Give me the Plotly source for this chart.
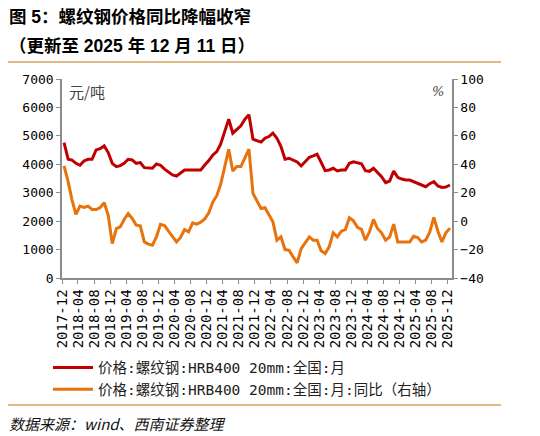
import pandas as pd
import plotly.graph_objects as go

# monthly data, 2017-12 .. 2025-12
months = pd.date_range("2017-12-01", "2025-12-01", freq="MS").strftime("%Y-%m").tolist()

# 价格:螺纹钢:HRB400 20mm:全国:月 (元/吨)
price = [
    4765, 4180, 4150, 4035, 3965, 4118, 4176, 4176, 4506, 4553,
    4647, 4412, 4035, 3918, 3953, 4035, 4176, 4153, 4035, 4059,
    3882, 3859, 3859, 4012, 3965, 3830, 3741, 3624, 3588, 3682,
    3800, 3800, 3800, 3800, 3800, 3976, 4129, 4329, 4447, 4718,
    5153, 5588, 5094, 5235, 5353, 5588, 5741, 4882, 4830, 4780,
    4918, 4976, 5094, 4918, 4624, 4176, 4212, 4153, 4082, 3941,
    4094, 4247, 4294, 4353, 4071, 3776, 3800, 3859, 3765, 3800,
    3800, 4035, 4085, 4050, 4020, 3776, 3753, 3859, 3706, 3565,
    3353, 3412, 3765, 3541, 3482, 3447, 3447, 3388, 3341, 3282,
    3212, 3318, 3388, 3235, 3188, 3200, 3271,
]

# 同比 (%), right axis
yoy = [
    38.8, 27.8, 14.8, 4.7, 10.6, 9.6, 10.6, 8.2, 8.2, 9.6,
    12.9, 4.2, -15.8, -5.2, -4.0, 1.2, 5.4, 1.9, -2.8, -3.3,
    -14.6, -16.2, -16.9, -11.1, -2.2, -3.1, -7.1, -11.1, -14.6, -11.5,
    -5.9, -7.5, -1.2, -2.1, -0.7, 1.6, 5.9, 13.6, 17.9, 25.9,
    38.4, 50.6, 35.3, 38.4, 38.4, 44.2, 50.6, 19.5, 14.6, 8.9,
    9.4, 4.7, -0.5, -13.4, -11.1, -20.0, -20.5, -25.2, -29.4, -19.3,
    -15.3, -11.1, -13.4, -13.4, -20.9, -22.8, -18.1, -8.2, -11.1, -7.1,
    -5.9, 2.4, 0.2, -4.4, -5.8, -13.4, -7.5, 1.2, -5.2, -8.2,
    -13.4, -11.1, -2.1, -14.6, -14.6, -14.6, -14.6, -10.6, -11.5, -14.6,
    -13.4, -7.8, 2.6, -7.1, -14.6, -8.2, -4.9,
]

name_price = "价格:螺纹钢:HRB400 20mm:全国:月"
name_yoy = "价格:螺纹钢:HRB400 20mm:全国:月:同比（右轴）"

RED = "#C00000"
ORANGE = "#E8720C"
RULE = "#D9A35F"
AXIS = "#8C8C8C"
MONO = "DejaVu Sans Mono, Noto Sans CJK SC"
CJK = "Noto Sans CJK SC, Liberation Sans"
TITLE = "Liberation Sans, Noto Sans CJK SC"

# the page body has an 8px margin, so the figure is shrunk to fit the window
PAD = 8
W, H = 540 - PAD, 436 - PAD
# plot area, in window pixels
L, R, T, B = 62, 452, 79, 278


def px(x):
    return (x - L) / (R - L)


def py(y):
    return (B - y) / (B - T)


fig = go.Figure()
fig.add_trace(go.Scatter(x=months, y=price, name=name_price, mode="lines",
                         xperiod="M1", xperiodalignment="middle",
                         line=dict(color=RED, width=3)))
fig.add_trace(go.Scatter(x=months, y=yoy, name=name_yoy, mode="lines", yaxis="y2",
                         xperiod="M1", xperiodalignment="middle",
                         line=dict(color=ORANGE, width=3)))

axis_common = dict(showline=True, linecolor=AXIS, linewidth=1.5, ticks="outside",
                   tickcolor=AXIS, ticklen=4, tickwidth=1.2, showgrid=False,
                   zeroline=False, automargin=False,
                   tickfont=dict(family=MONO, size=13, color="#000"))

fig.update_layout(
    width=W, height=H,
    margin=dict(l=L - PAD, r=W - (R - PAD), t=T - PAD, b=H - (B - PAD), autoexpand=False),
    paper_bgcolor="white", plot_bgcolor="white",
    xaxis=dict(type="date", range=["2017-12-01", "2026-01-01"],
               tick0="2017-12-01", dtick="M4", tickformat="%Y-%m",
               tickangle=-90, **{**axis_common, "tickfont": dict(family=MONO, size=14, color="#000")}),
    yaxis=dict(range=[0, 7000], dtick=1000, **axis_common),
    yaxis2=dict(range=[-40, 100], dtick=20, overlaying="y", side="right", **axis_common),
    legend=dict(x=px(48), y=py(351.5), xanchor="left", yanchor="top",
                font=dict(family=MONO, size=14.5, color="#222"),
                tracegroupgap=0, itemwidth=40, bgcolor="rgba(0,0,0,0)"),
    showlegend=True,
)

ann = [
    dict(text="<b>图 5：螺纹钢价格同比降幅收窄</b>", x=px(PAD), y=py(17),
         font=dict(family=TITLE, size=17.5, color="#000")),
    dict(text="<b>（更新至 2025 年 12 月 11 日）</b>", x=px(PAD), y=py(46),
         font=dict(family=TITLE, size=17.5, color="#000")),
    dict(text="元/吨", x=px(68), y=py(91), font=dict(family=CJK, size=15, color="#444")),
    dict(text="<i>%</i>", x=px(431), y=py(92), font=dict(family="DejaVu Serif", size=13, color="#444")),
    dict(text="<i>数据来源：wind、西南证券整理</i>", x=px(PAD), y=py(423),
         font=dict(family=CJK, size=15, color="#111")),
]
for a in ann:
    fig.add_annotation(xref="paper", yref="paper", xanchor="left", yanchor="middle",
                       showarrow=False, borderpad=0, **a)

# decorative horizontal rules (header and footer)
for y0 in (62, 405):
    fig.add_shape(type="line", xref="paper", yref="paper",
                  x0=px(PAD), x1=px(501), y0=py(y0), y1=py(y0),
                  line=dict(color=RULE, width=1.5))
fig.add_shape(type="line", xref="paper", yref="paper",
              x0=px(532), x1=px(541), y0=py(62), y1=py(62),
              line=dict(color=RULE, width=1.5))
# edge of a neighbouring box at the top right
fig.add_shape(type="rect", xref="paper", yref="paper",
              x0=px(534), x1=px(537), y0=py(20), y1=py(9),
              line=dict(color="#777", width=1), fillcolor="#ddd")

fig.write_html("out.html")
